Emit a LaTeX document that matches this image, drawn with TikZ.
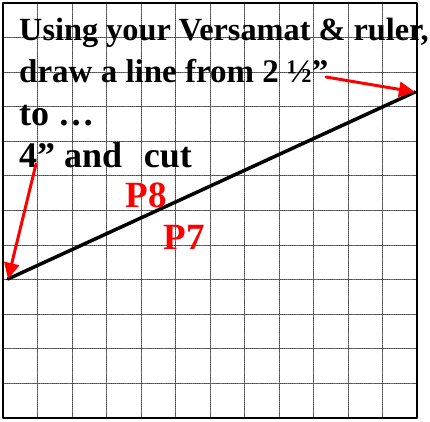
\documentclass[tikz,border=0pt]{standalone}
\usepackage{fontspec}
\setmainfont{Liberation Serif}
\usetikzlibrary{arrows.meta}

\begin{document}
\begin{tikzpicture}[x=1pt, y=-1pt, line join=round, line cap=round,
    gridline/.style={black!70, densely dotted, line width=0.9pt},
    pointer/.style={red, line width=3pt, -{Triangle[length=16pt,width=15pt]}},
    task line/.style={anchor=base west, inner sep=0pt, font=\fontsize{33}{40}\selectfont\bfseries},
    task big/.style={task line, font=\fontsize{36}{40}\selectfont\bfseries},
    step label/.style={red, anchor=base west, font=\fontsize{37}{40}\selectfont\bfseries}]
	\useasboundingbox (0,0) rectangle (430,421);
	% Lưới ô vuông
	\foreach \k in {1,...,11} {
		\draw[gridline] (3+34.5*\k,3) -- (3+34.5*\k,418);
		\draw[gridline] (3,3+34.58*\k) -- (417,3+34.58*\k);
	}
	\draw[line width=2pt, line cap=butt] (3,3) rectangle (417,418);
	
	% Các điểm của đường kẻ
	\coordinate (start) at (8,279);
	\coordinate (finish) at (415,92);
	\coordinate (tailA) at (326,77);
	\coordinate (tailB) at (36,164);
	
	% Đường kẻ
	\draw[line width=3.5pt] (start) -- (finish);
	
	% Lời dặn
	\node[task line, font=\fontsize{32.3}{40}\selectfont\bfseries] (line1) at (19,40) {Using your Versamat \& ruler,};
	\node[task line] (line2) at (19,82) {draw a line from 2 ½”};
	\node[task big] (line3) at (19,125) {to …};
	\node[task big] (line4) at (19,167) {4” and\hspace{0.6em}cut};
	
	% Mũi tên
	\draw[pointer] (tailA) -- (finish);
	\draw[pointer] (tailB) -- (start);
	
	% Nhãn bước
	\node[step label] (p8) at (122,207) {P8};
	\node[step label] (p7) at (160,249) {P7};
\end{tikzpicture}
\end{document}
